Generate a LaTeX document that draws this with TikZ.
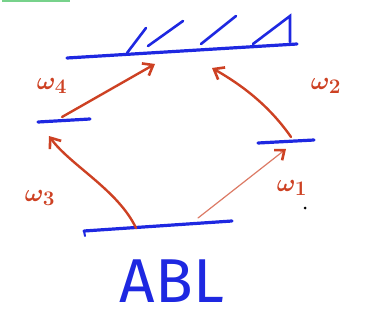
\documentclass[tikz,border=0pt]{standalone}
\usepackage{fontspec}
\newfontfamily\handfont{Fira Sans}
\usetikzlibrary{arrows.meta}
\definecolor{penblue}{RGB}{30,40,225}
\definecolor{penred}{RGB}{205,65,35}
\definecolor{pengreen}{RGB}{60,190,90}
\tikzset{
  blueline/.style={draw=penblue,line width=3.2pt,line cap=round},
  hatchline/.style={draw=penblue,line width=2.6pt,line cap=round},
  redarrow/.style={draw=penred,line width=2.4pt,line cap=round,-{Straight Barb[length=9pt,width=14pt,line width=2.6pt]}},
  thinarrow/.style={draw=penred!70,line width=1.2pt,line cap=round,-{Straight Barb[length=8pt,width=13pt,line width=2.6pt,color=penred]}},
  wlabel/.style={text=penred,font=\fontsize{32}{32}\selectfont\boldmath},
}
\begin{document}
\begin{tikzpicture}[x=1pt,y=-1pt]
\useasboundingbox (0,0) rectangle (367,329);
% green fragment at the top edge
\draw[pengreen!70,line width=2pt] (2,1) -- (70,1);
% levels
\coordinate (t1) at (67,58); \coordinate (t2) at (297,44);
\coordinate (l1) at (38,122); \coordinate (l2) at (90,119);
\coordinate (r1) at (258,143); \coordinate (r2) at (314,140);
\coordinate (b1) at (84,231); \coordinate (b2) at (232,221);
\draw[blueline] (t1) -- (t2);
\draw[blueline] (l1) -- (l2);
\draw[blueline] (r1) -- (r2);
\draw[blueline] (b1) -- (b2);
\draw[penblue,line width=2pt,line cap=round] (b1) -- (85,236);
% hatching
\draw[hatchline] (127,53) -- (146,28);
\draw[hatchline] (148,46) -- (183,21);
\draw[hatchline] (201,44) -- (236,16);
\draw[hatchline] (253,44) -- (290,16) -- (290,42);
% arrows
\coordinate (a4s) at (62,117); \coordinate (a4e) at (155,64);
\coordinate (a2s) at (291,137); \coordinate (a2e) at (212,68);
\coordinate (a3s) at (136,228); \coordinate (a3e) at (49,136);
\coordinate (a1s) at (198,218); \coordinate (a1e) at (286,149);
\draw[redarrow] (a4s) -- (a4e);
\draw[redarrow] (a2s) .. controls (268,104) and (240,84) .. (a2e);
\draw[redarrow] (a3s) .. controls (118,190) and (70,165) .. (a3e);
\draw[thinarrow] (a1s) -- (a1e);
% labels
\node[wlabel] (w4) at (52,86) {$\omega_4$};
\node[wlabel] (w2) at (326,86) {$\omega_2$};
\node[wlabel] (w3) at (40,198) {$\omega_3$};
\node[wlabel] (w1) at (292,188) {$\omega_1$};
\fill[black] (305,208) circle (1.5pt);
\node[text=penblue,font=\handfont\fontsize{62}{62}\selectfont] (abl) at (172,281) {ABL};
\end{tikzpicture}
\end{document}
